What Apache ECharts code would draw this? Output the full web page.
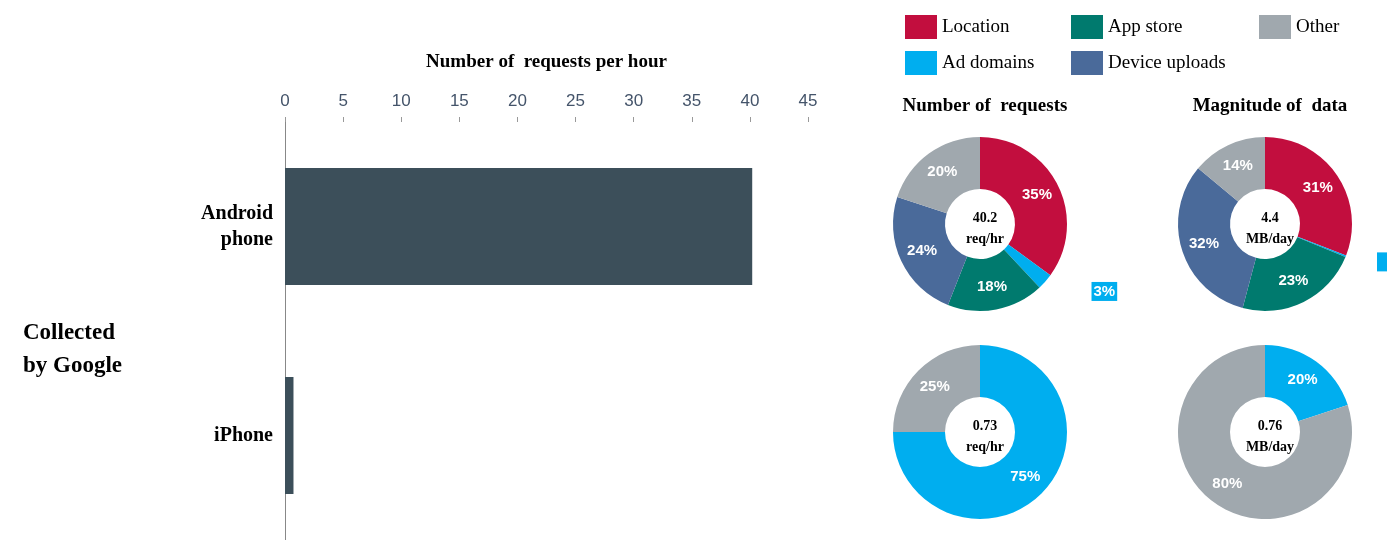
<!DOCTYPE html><html><head><meta charset="utf-8"><script src="https://cdn.jsdelivr.net/npm/echarts@6/dist/echarts.min.js"></script>
<style>body{margin:0}#c{width:1387px;height:540px}</style></head><body><div id="c"></div><script>
const categories=['Android\nphone','iPhone'];
const requestsPerHour=[40.2,0.73];
const xTicks=[0,5,10,15,20,25,30,35,40,45];
const segNames=['Location','Ad domains','App store','Device uploads','Other'];
const segColors=['#C20E3E','#00AEEF','#007A6E','#4A6A9A','#A0A8AE'];
const androidReq=[35,3,18,24,20];
const androidData=[31,0.3,23,32,14];
const iphoneReq=[0,75,0,0,25];
const iphoneData=[0,20,0,0,80];
const centerTexts=['40.2\nreq/hr','4.4\nMB/day','0.73\nreq/hr','0.76\nMB/day'];
const serif='"Liberation Serif","DejaVu Serif",serif';
function pie(vals,cx,cy){
  return {type:'pie',center:[cx,cy],radius:[35,87],startAngle:90,clockwise:true,silent:true,
    label:{show:true,position:'inside',color:'#fff',fontWeight:'bold',fontSize:15,fontFamily:'Arial,"Liberation Sans",sans-serif',
      formatter:p=>Math.round(p.value)+'%'},
    labelLine:{show:false},
    data:segNames.map((n,i)=>({name:n,value:vals[i],itemStyle:{color:segColors[i]},
      label: vals[i]===0?{show:false}:(i===1&&vals[i]<10?{backgroundColor:'#00AEEF',padding:[2,2],position:'outside',distance:-20}:{})})).filter(d=>d.value>0)};
}
const pos=[[980,224],[1265,224],[980,432],[1265,432]];
const ch=echarts.init(document.getElementById('c'));
ch.setOption({
  animation:false,
  grid:{left:285,width:523,top:122,bottom:0},
  xAxis:{type:'value',position:'top',min:0,max:45,interval:5,
    name:'Number of  requests per hour',nameLocation:'middle',nameGap:50,
    nameTextStyle:{fontFamily:serif,fontWeight:'bold',fontSize:19,color:'#000'},
    axisLine:{show:false},axisTick:{show:true,length:5,lineStyle:{color:'#999'}},splitLine:{show:false},
    axisLabel:{color:'#44546A',fontSize:17,fontFamily:'Arial,"Liberation Sans",sans-serif',margin:12,formatter:v=>xTicks.includes(v)?String(v):''}},
  yAxis:{type:'category',inverse:true,data:categories,axisTick:{show:false},
    axisLine:{lineStyle:{color:'#888'}},
    axisLabel:{fontFamily:serif,fontWeight:'bold',fontSize:20,color:'#000',margin:12,align:'right',lineHeight:26}},
  legend:[
    {left:900,top:10,data:['Location']},{left:1066,top:10,data:['App store']},{left:1254,top:10,data:['Other']},
    {left:900,top:46,data:['Ad domains']},{left:1066,top:46,data:['Device uploads']}
  ].map(l=>Object.assign(l,{itemWidth:32,itemHeight:24,icon:'rect',itemGap:8,selectedMode:false,
    textStyle:{fontFamily:serif,fontSize:19,color:'#000'}})),
  title:[
    {text:'Number of  requests',left:980,top:92,textAlign:'center',textStyle:{fontFamily:serif,fontWeight:'bold',fontSize:19,color:'#000'}},
    {text:'Magnitude of  data',left:1265,top:92,textAlign:'center',textStyle:{fontFamily:serif,fontWeight:'bold',fontSize:19,color:'#000'}},
    {text:'Collected\nby Google',left:18,top:312,textStyle:{fontFamily:serif,fontWeight:'bold',fontSize:23,color:'#000',lineHeight:33}}
  ].concat(centerTexts.map((t,i)=>({text:t,left:pos[i][0],top:pos[i][1]-21,textAlign:'center',
    textStyle:{fontFamily:serif,fontWeight:'bold',fontSize:14,color:'#000',lineHeight:21}}))),
  series:[
    {type:'bar',data:requestsPerHour,barWidth:117,itemStyle:{color:'#3C4F5A'},silent:true},
    pie(androidReq,980,224),pie(androidData,1265,224),pie(iphoneReq,980,432),pie(iphoneData,1265,432)
  ]
});
</script></body></html>
